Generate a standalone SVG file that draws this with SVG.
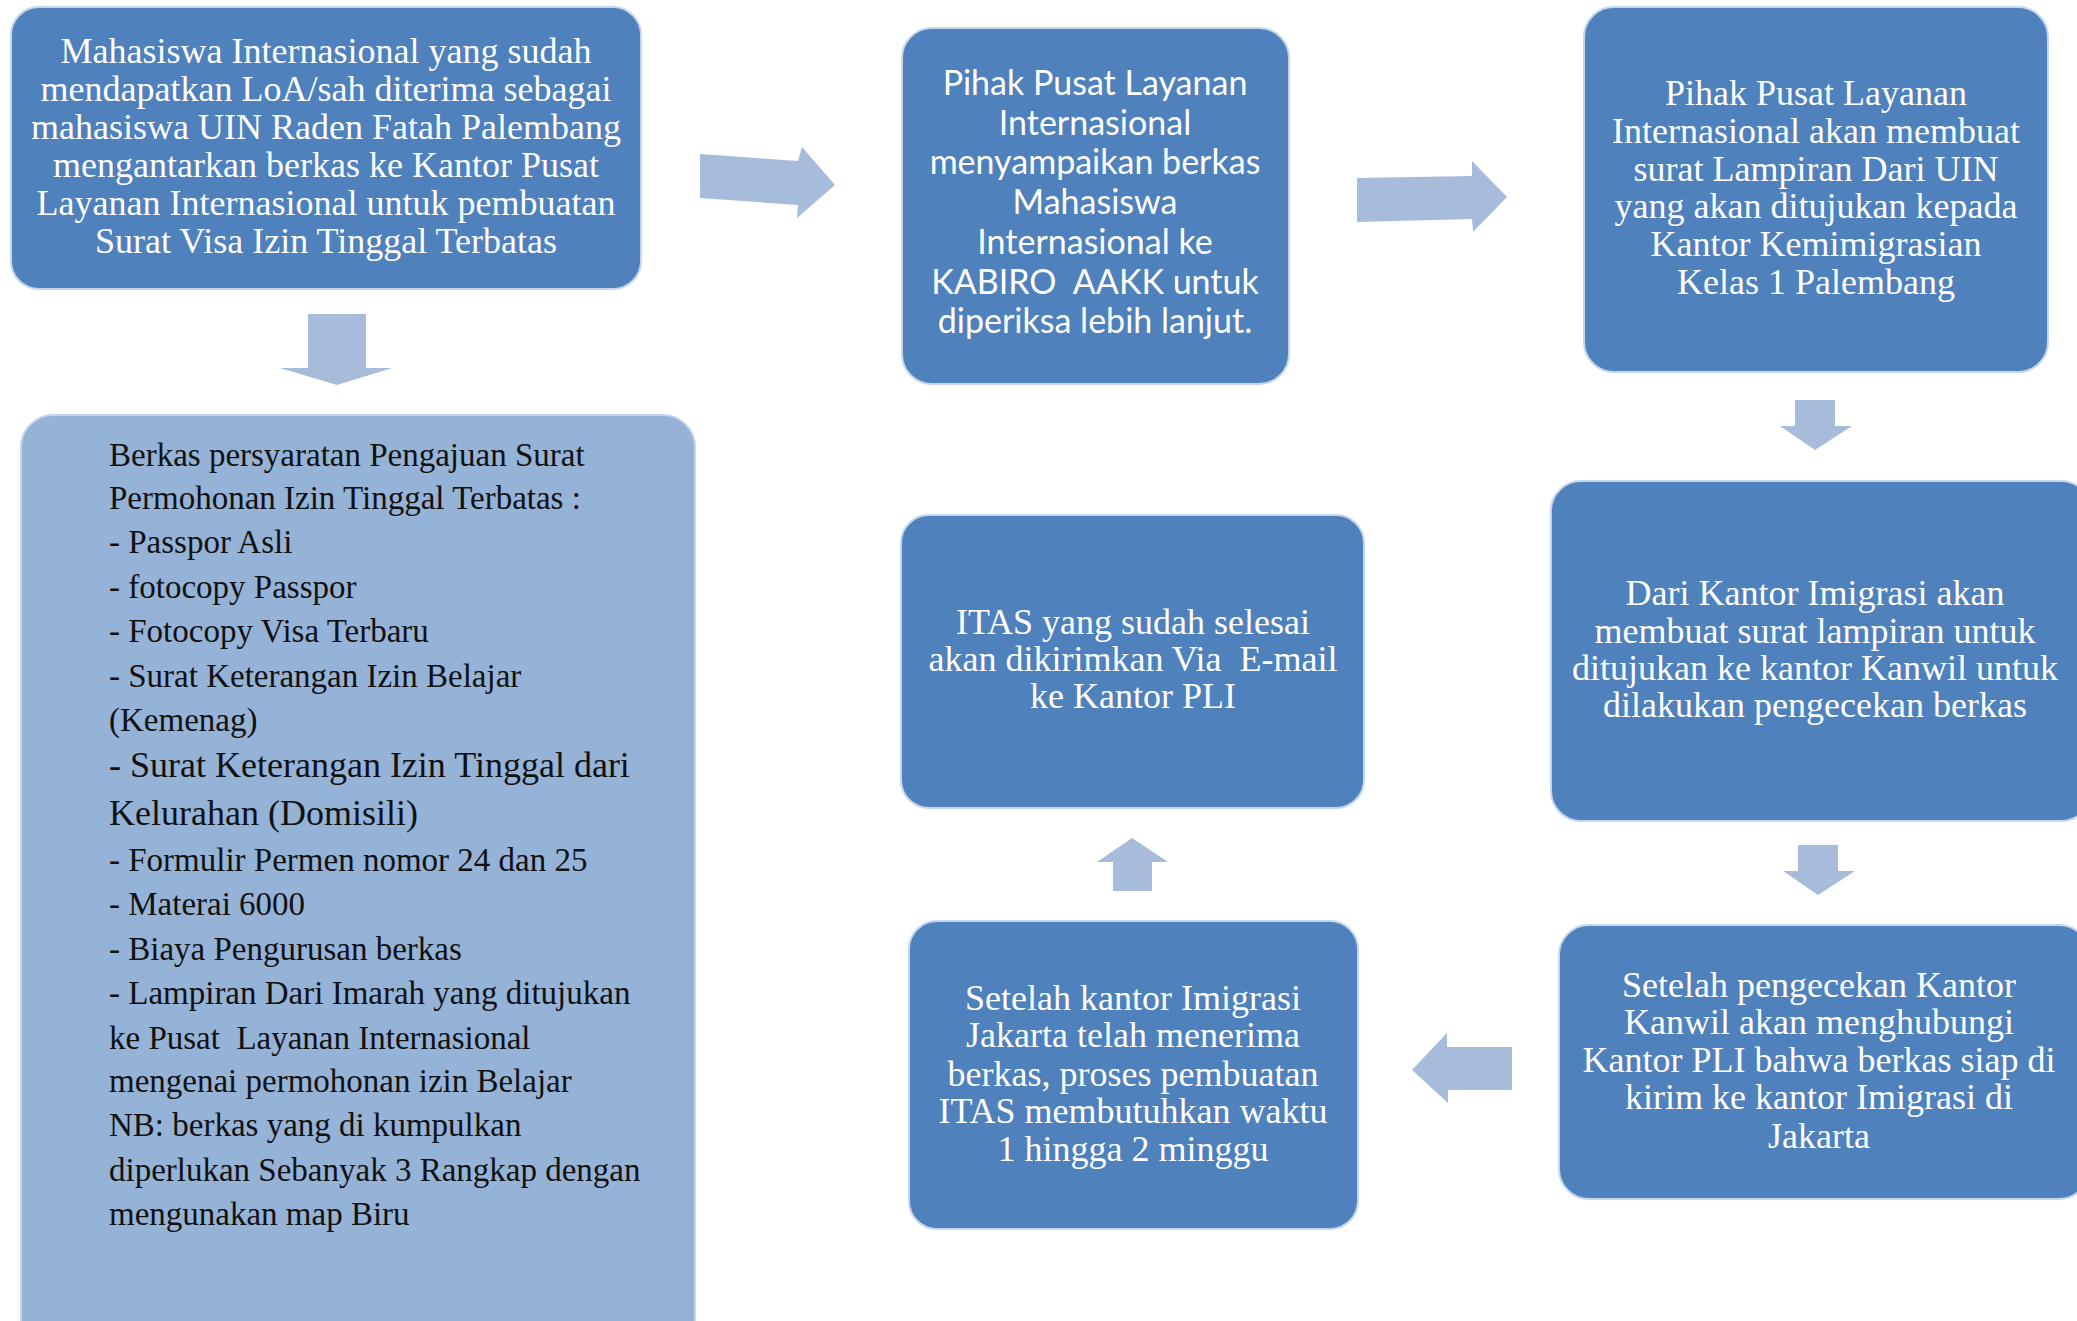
<svg xmlns="http://www.w3.org/2000/svg" width="2077" height="1321" viewBox="0 0 2077 1321">
<style>
.box{fill:#4f81bd;stroke:#c5d6ec;stroke-width:2}
.lbox{fill:#95b3d7;stroke:#c5d6ec;stroke-width:2}
.arr{fill:#a7bbdb}
.t{font-family:"Liberation Serif","Times New Roman",serif;font-size:36px;fill:#ffffff;text-anchor:middle;white-space:pre}
.c{font-family:Lato,"Noto Sans",sans-serif;font-size:34px;fill:#ffffff;text-anchor:middle;white-space:pre}
.k{font-family:"Liberation Serif","Times New Roman",serif;font-size:33px;fill:#111111;white-space:pre}
.kb{font-size:36px}
</style>
<rect width="2077" height="1321" fill="#ffffff"/>
<g id="connectors">
<polygon class="arr" points="700,154 798,161 802,147 835,185 797,218 798,205 700,198"/>
<polygon class="arr" points="1357,178 1472,176 1472,161 1507,197 1473,232 1472,219 1357,222"/>
<polygon class="arr" points="308,314 366,314 366,368 392,368 337,385 280,368 308,368"/>
<polygon class="arr" points="1795,400 1835,400 1835,426 1852,426 1815,450 1780,426 1795,426"/>
<polygon class="arr" points="1798,845 1838,845 1838,871 1855,871 1818,895 1783,871 1798,871"/>
<polygon class="arr" points="1512,1047 1447,1047 1447,1033 1412,1070 1448,1103 1448,1090 1512,1090"/>
<polygon class="arr" points="1113,891 1152,891 1152,862 1168,862 1132,838 1097,862 1113,862"/>
</g>
<g id="node1">
<rect class="box" x="11" y="7" width="630" height="282" rx="28"/>
<text class="t" x="326" y="63">Mahasiswa Internasional yang sudah</text>
<text class="t" x="326" y="101">mendapatkan LoA/sah diterima sebagai</text>
<text class="t" x="326" y="139">mahasiswa UIN Raden Fatah Palembang</text>
<text class="t" x="326" y="177">mengantarkan berkas ke Kantor Pusat</text>
<text class="t" x="326" y="215">Layanan Internasional untuk pembuatan</text>
<text class="t" x="326" y="253">Surat Visa Izin Tinggal Terbatas</text>
</g>
<g id="node2">
<rect class="box" x="902" y="28" width="387" height="356" rx="30"/>
<text class="c" x="1095" y="95">Pihak Pusat Layanan</text>
<text class="c" x="1095" y="135">Internasional</text>
<text class="c" x="1095" y="174">menyampaikan berkas</text>
<text class="c" x="1095" y="214">Mahasiswa</text>
<text class="c" x="1095" y="254">Internasional ke</text>
<text class="c" x="1095" y="294">KABIRO  AAKK untuk</text>
<text class="c" x="1095" y="333">diperiksa lebih lanjut.</text>
</g>
<g id="node3">
<rect class="box" x="1584" y="7" width="464" height="365" rx="30"/>
<text class="t" x="1816" y="105">Pihak Pusat Layanan</text>
<text class="t" x="1816" y="143">Internasional akan membuat</text>
<text class="t" x="1816" y="181">surat Lampiran Dari UIN</text>
<text class="t" x="1816" y="218">yang akan ditujukan kepada</text>
<text class="t" x="1816" y="256">Kantor Kemimigrasian</text>
<text class="t" x="1816" y="294">Kelas 1 Palembang</text>
</g>
<g id="node4">
<rect class="lbox" x="21" y="415" width="674" height="940" rx="32"/>
<text class="k" x="109" y="466">Berkas persyaratan Pengajuan Surat</text>
<text class="k" x="109" y="509">Permohonan Izin Tinggal Terbatas :</text>
<text class="k" x="109" y="553">- Passpor Asli</text>
<text class="k" x="109" y="598">- fotocopy Passpor</text>
<text class="k" x="109" y="642">- Fotocopy Visa Terbaru</text>
<text class="k" x="109" y="687">- Surat Keterangan Izin Belajar</text>
<text class="k" x="109" y="731">(Kemenag)</text>
<text class="k kb" x="109" y="777">- Surat Keterangan Izin Tinggal dari</text>
<text class="k kb" x="109" y="825">Kelurahan (Domisili)</text>
<text class="k" x="109" y="871">- Formulir Permen nomor 24 dan 25</text>
<text class="k" x="109" y="915">- Materai 6000</text>
<text class="k" x="109" y="960">- Biaya Pengurusan berkas</text>
<text class="k" x="109" y="1004">- Lampiran Dari Imarah yang ditujukan</text>
<text class="k" x="109" y="1049">ke Pusat  Layanan Internasional</text>
<text class="k" x="109" y="1092">mengenai permohonan izin Belajar</text>
<text class="k" x="109" y="1136">NB: berkas yang di kumpulkan</text>
<text class="k" x="109" y="1181">diperlukan Sebanyak 3 Rangkap dengan</text>
<text class="k" x="109" y="1225">mengunakan map Biru</text>
</g>
<g id="node5">
<rect class="box" x="901" y="515" width="463" height="293" rx="28"/>
<text class="t" x="1133" y="634">ITAS yang sudah selesai</text>
<text class="t" x="1133" y="671">akan dikirimkan Via  E-mail</text>
<text class="t" x="1133" y="708">ke Kantor PLI</text>
</g>
<g id="node6">
<rect class="box" x="1551" y="481" width="540" height="340" rx="30"/>
<text class="t" x="1815" y="605">Dari Kantor Imigrasi akan</text>
<text class="t" x="1815" y="643">membuat surat lampiran untuk</text>
<text class="t" x="1815" y="680">ditujukan ke kantor Kanwil untuk</text>
<text class="t" x="1815" y="717">dilakukan pengecekan berkas</text>
</g>
<g id="node7">
<rect class="box" x="1559" y="925" width="530" height="274" rx="30"/>
<text class="t" x="1819" y="997">Setelah pengecekan Kantor</text>
<text class="t" x="1819" y="1034">Kanwil akan menghubungi</text>
<text class="t" x="1819" y="1072">Kantor PLI bahwa berkas siap di</text>
<text class="t" x="1819" y="1109">kirim ke kantor Imigrasi di</text>
<text class="t" x="1819" y="1148">Jakarta</text>
</g>
<g id="node8">
<rect class="box" x="909" y="921" width="449" height="308" rx="28"/>
<text class="t" x="1133" y="1010">Setelah kantor Imigrasi</text>
<text class="t" x="1133" y="1047">Jakarta telah menerima</text>
<text class="t" x="1133" y="1086">berkas, proses pembuatan</text>
<text class="t" x="1133" y="1123">ITAS membutuhkan waktu</text>
<text class="t" x="1133" y="1161">1 hingga 2 minggu</text>
</g>
</svg>
